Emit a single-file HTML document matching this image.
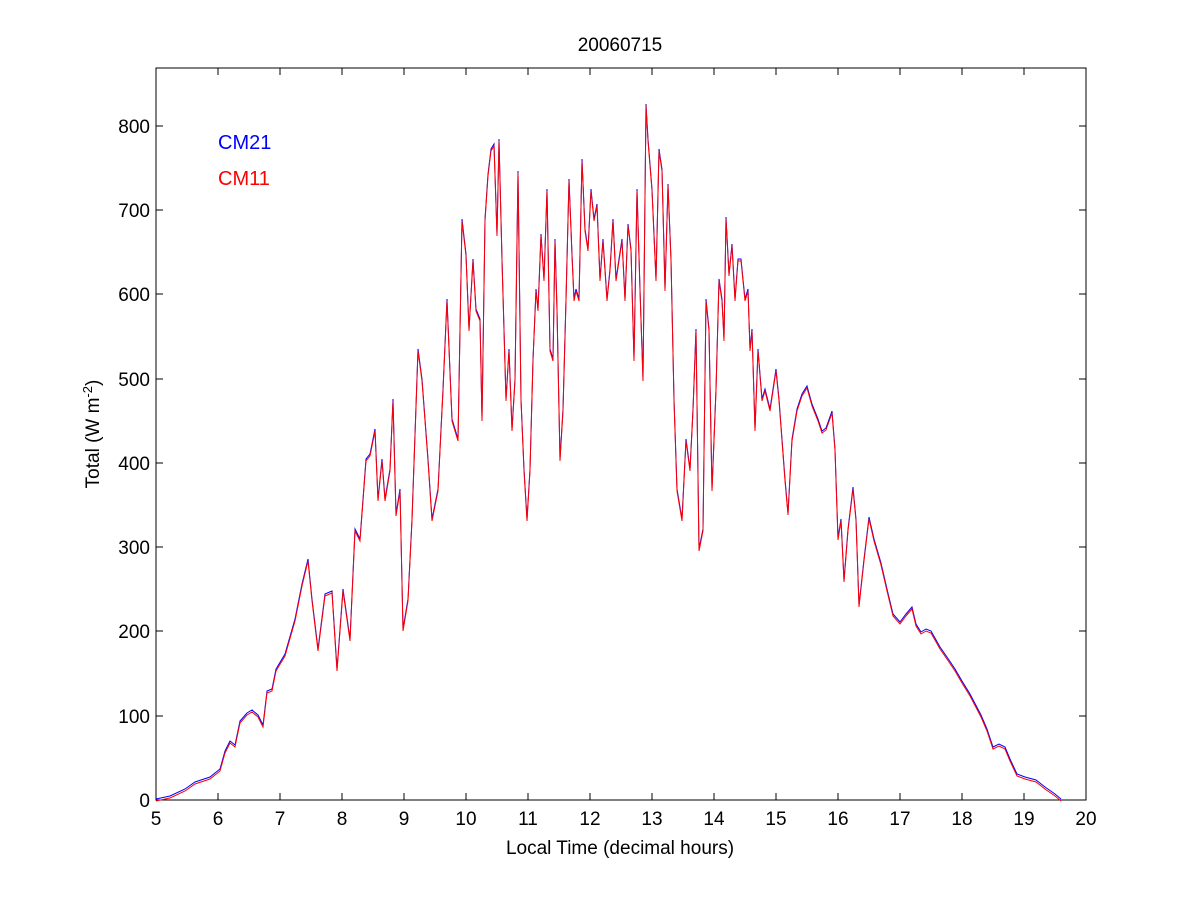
<!DOCTYPE html>
<html><head><meta charset="utf-8"><style>
body{margin:0;background:#fff;}
svg{display:block;font-family:"Liberation Sans",Arial,sans-serif;}
</style></head><body>
<svg width="1200" height="900" xmlns="http://www.w3.org/2000/svg">
<rect width="1200" height="900" fill="#fff"/>
<rect x="156" y="68" width="930" height="732" fill="#fff" stroke="#000" stroke-width="1"/>
<g stroke="#000" stroke-width="1">
<path d="M156,800v-7M218,800v-7M280,800v-7M342,800v-7M404,800v-7M466,800v-7M528,800v-7M590,800v-7M652,800v-7M714,800v-7M776,800v-7M838,800v-7M900,800v-7M962,800v-7M1024,800v-7M1086,800v-7"/>
<path d="M156,68v7M218,68v7M280,68v7M342,68v7M404,68v7M466,68v7M528,68v7M590,68v7M652,68v7M714,68v7M776,68v7M838,68v7M900,68v7M962,68v7M1024,68v7M1086,68v7"/>
<path d="M156,800h7M156,716h7M156,631h7M156,547h7M156,463h7M156,379h7M156,294h7M156,210h7M156,126h7"/>
<path d="M1086,800h-7M1086,716h-7M1086,631h-7M1086,547h-7M1086,463h-7M1086,379h-7M1086,294h-7M1086,210h-7M1086,126h-7"/>
</g>
<g font-size="19" text-anchor="middle" fill="#000">
<text x="156" y="825">5</text><text x="218" y="825">6</text><text x="280" y="825">7</text><text x="342" y="825">8</text><text x="404" y="825">9</text><text x="466" y="825">10</text><text x="528" y="825">11</text><text x="590" y="825">12</text><text x="652" y="825">13</text><text x="714" y="825">14</text><text x="776" y="825">15</text><text x="838" y="825">16</text><text x="900" y="825">17</text><text x="962" y="825">18</text><text x="1024" y="825">19</text><text x="1086" y="825">20</text>
</g>
<g font-size="19" text-anchor="end" fill="#000">
<text x="150" y="807">0</text><text x="150" y="723">100</text><text x="150" y="638">200</text><text x="150" y="554">300</text><text x="150" y="470">400</text><text x="150" y="386">500</text><text x="150" y="301">600</text><text x="150" y="217">700</text><text x="150" y="133">800</text>
</g>
<text x="620" y="51" font-size="19" text-anchor="middle">20060715</text>
<text x="620" y="854" font-size="19" text-anchor="middle">Local Time (decimal hours)</text>
<text transform="translate(99,434) rotate(-90)" font-size="19" text-anchor="middle">Total (W m<tspan dy="-7" font-size="13">-2</tspan><tspan dy="7">)</tspan></text>
<text x="218" y="149" font-size="20" fill="#0000ff">CM21</text>
<text x="218" y="185" font-size="20" fill="#ff0000">CM11</text>
<g fill="none" stroke-width="1">
<polyline stroke="#0000ff" transform="translate(0,-1)" points="156,800 170,797 185,790 195,783 210,778 220,770 225,752 230,742 235,746 240,722 247,714 252,711 258,716 263,726 267,692 272,690 276,670 285,655 295,620 302,585 308,560 312,600 318,650 325,595 332,592 337,670 343,590 350,640 355,530 360,540 366,460 370,455 375,430 378,500 382,460 385,500 390,470 393,400 396,515 400,490 403,630 408,600 412,520 418,350 422,380 428,460 432,520 438,490 443,390 447,300 452,420 458,440 462,220 466,255 469,330 473,260 476,310 480,320 482,420 485,220 488,175 491,150 494,145 497,235 499,140 502,260 506,400 509,350 512,430 515,380 518,172 521,400 524,470 527,520 530,470 533,360 536,290 538,310 541,235 544,280 547,190 550,350 553,360 555,240 557,310 560,460 563,410 566,300 569,180 572,255 574,300 576,290 579,300 582,160 585,230 588,250 591,190 594,220 597,205 600,280 603,240 607,300 610,270 613,220 616,280 619,260 622,240 625,300 628,225 631,250 634,360 637,190 640,290 643,380 646,105 648,140 652,190 656,280 659,150 662,170 665,290 668,185 671,260 674,400 677,490 682,520 686,440 690,470 693,410 696,330 699,550 703,530 706,300 709,330 712,490 716,390 719,280 722,300 724,340 726,218 729,275 732,245 735,300 738,260 741,260 745,300 748,290 750,350 752,330 755,430 758,350 762,400 765,390 770,410 776,370 779,400 785,480 788,514 792,440 797,410 802,395 807,387 812,405 818,420 822,432 826,429 832,412 835,450 838,539 841,520 844,581 848,530 853,488 856,520 859,606 864,560 869,518 874,540 881,564 887,590 893,615 900,623 906,615 912,608 916,625 921,633 926,630 931,632 940,648 949,661 955,670 962,682 970,695 981,716 987,730 993,748 999,745 1005,748 1010,760 1017,775 1025,778 1036,781 1045,788 1055,795 1061,800"/>
<polyline stroke="#ff0000" transform="translate(0,1)" points="156,800 170,797 185,790 195,783 210,778 220,770 225,752 230,742 235,746 240,722 247,714 252,711 258,716 263,726 267,692 272,690 276,670 285,655 295,620 302,585 308,560 312,600 318,650 325,595 332,592 337,670 343,590 350,640 355,530 360,540 366,460 370,455 375,430 378,500 382,460 385,500 390,470 393,400 396,515 400,490 403,630 408,600 412,520 418,350 422,380 428,460 432,520 438,490 443,390 447,300 452,420 458,440 462,220 466,255 469,330 473,260 476,310 480,320 482,420 485,220 488,175 491,150 494,145 497,235 499,140 502,260 506,400 509,350 512,430 515,380 518,172 521,400 524,470 527,520 530,470 533,360 536,290 538,310 541,235 544,280 547,190 550,350 553,360 555,240 557,310 560,460 563,410 566,300 569,180 572,255 574,300 576,290 579,300 582,160 585,230 588,250 591,190 594,220 597,205 600,280 603,240 607,300 610,270 613,220 616,280 619,260 622,240 625,300 628,225 631,250 634,360 637,190 640,290 643,380 646,105 648,140 652,190 656,280 659,150 662,170 665,290 668,185 671,260 674,400 677,490 682,520 686,440 690,470 693,410 696,330 699,550 703,530 706,300 709,330 712,490 716,390 719,280 722,300 724,340 726,218 729,275 732,245 735,300 738,260 741,260 745,300 748,290 750,350 752,330 755,430 758,350 762,400 765,390 770,410 776,370 779,400 785,480 788,514 792,440 797,410 802,395 807,387 812,405 818,420 822,432 826,429 832,412 835,450 838,539 841,520 844,581 848,530 853,488 856,520 859,606 864,560 869,518 874,540 881,564 887,590 893,615 900,623 906,615 912,608 916,625 921,633 926,630 931,632 940,648 949,661 955,670 962,682 970,695 981,716 987,730 993,748 999,745 1005,748 1010,760 1017,775 1025,778 1036,781 1045,788 1055,795 1061,800"/>
</g>
</svg>
</body></html>
